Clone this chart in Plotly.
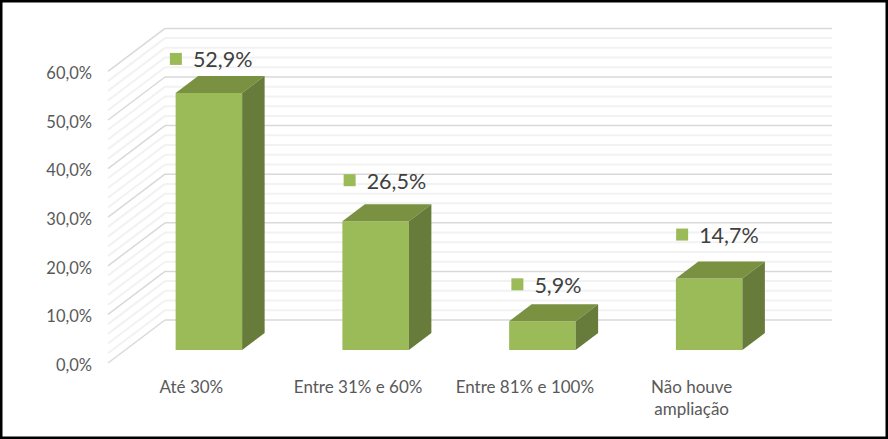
import plotly.graph_objects as go

categories = ["Até 30%", "Entre 31% e 60%", "Entre 81% e 100%", "Não houve<br>ampliação"]
values = [52.9, 26.5, 5.9, 14.7]
value_labels = ["52,9%", "26,5%", "5,9%", "14,7%"]
y_ticks = [0, 10, 20, 30, 40, 50, 60]
y_tick_labels = ["0,0%", "10,0%", "20,0%", "30,0%", "40,0%", "50,0%", "60,0%"]
minor_levels = [v for v in range(0, 61, 2) if v % 10]

W, H = 888, 439
L, R, T, B = 106, 832, 27, 365
PX_X = 166.75
PX_Y = 4.86
ux = lambda p: p / PX_X
uy = lambda p: p / PX_Y
x0 = -0.5                      # front-left corner of the floor
x_min = x0 - ux(108 - L)
x1 = x0 + ux(R - 108)
y_min = -uy(B - 363)
y1 = uy(363 - T)

WALL_DX, WALL_DY = ux(57), uy(43)
BAR_SHIFT, BAR_BASE = ux(17.5), uy(13)
BAR_W = ux(66.5)
DEPTH_DX, DEPTH_DY = ux(22.5), uy(17)

FRONT, TOP, SIDE = "#9BBB59", "#7A9142", "#677C3A"
# hand-placed data labels: pixel offsets of the square marker from the bar's top centre
label_off_x = [-33, -26, -25, -27]
label_off_y = [34, 41, 37, 44]

shapes = []
def wall(level, color, width):
    shapes.append(dict(type="line", layer="below", xref="x", yref="y", x0=x0, y0=level,
                       x1=x0 + WALL_DX, y1=level + WALL_DY, line=dict(color=color, width=width)))
    shapes.append(dict(type="line", layer="below", xref="x", yref="y", x0=x0 + WALL_DX, y0=level + WALL_DY,
                       x1=x1, y1=level + WALL_DY, line=dict(color=color, width=width)))
for lv in minor_levels:
    wall(lv, "#F2F2F2", 2)
for lv in y_ticks:
    wall(lv, "#D9D9D9", 1.5)

xs = list(range(len(values)))
centres = [x + BAR_SHIFT for x in xs]

fig = go.Figure()
fig.add_trace(go.Bar(x=centres, y=values, base=BAR_BASE, width=BAR_W,
                     marker=dict(color=FRONT, line=dict(width=0)), showlegend=False))
for c, v in zip(centres, values):
    l, r = c - BAR_W / 2, c + BAR_W / 2
    t = v + BAR_BASE
    fig.add_trace(go.Scatter(x=[l, r, r + DEPTH_DX, l + DEPTH_DX, l], y=[t, t, t + DEPTH_DY, t + DEPTH_DY, t],
                             mode="lines", fill="toself", fillcolor=TOP, line=dict(width=0), showlegend=False))
    fig.add_trace(go.Scatter(x=[r, r + DEPTH_DX, r + DEPTH_DX, r, r],
                             y=[BAR_BASE, BAR_BASE + DEPTH_DY, t + DEPTH_DY, t, BAR_BASE],
                             mode="lines", fill="toself", fillcolor=SIDE, line=dict(width=0), showlegend=False))

sq_x = [c + ux(o) for c, o in zip(centres, label_off_x)]
sq_y = [v + BAR_BASE + uy(o) for v, o in zip(values, label_off_y)]
fig.add_trace(go.Scatter(x=sq_x, y=sq_y, mode="markers",
                         marker=dict(symbol="square", size=12, color=FRONT), showlegend=False))
fig.add_trace(go.Scatter(x=[x + ux(17) for x in sq_x], y=[y - uy(3) for y in sq_y],
                         mode="text", text=value_labels, textposition="middle right",
                         textfont=dict(family="Lato", size=21.5, color="#404040"),
                         cliponaxis=False, showlegend=False))

fig.update_layout(
    width=W, height=H, margin=dict(l=L, r=W - R, t=T, b=H - B),
    paper_bgcolor="white", plot_bgcolor="white", showlegend=False, shapes=shapes,
    xaxis=dict(range=[x_min, x1], tickvals=xs, ticktext=categories, showgrid=False, zeroline=False,
               showline=False, ticks="", ticklabelstandoff=10, tickangle=0,
               tickfont=dict(family="Lato", size=17, color="#595959")),
    yaxis=dict(range=[y_min, y1], tickvals=[t - uy(2) for t in y_ticks], ticktext=y_tick_labels,
               showgrid=False, zeroline=False, showline=False, ticks="", ticklabelstandoff=13,
               tickfont=dict(family="Lato", size=16.5, color="#595959")),
)
fig.add_shape(type="rect", xref="paper", yref="paper", layer="above",
              x0=(1.25 - L) / (R - L), x1=(W - 1.25 - L) / (R - L),
              y0=(B - (H - 1.25)) / (B - T), y1=(B - 1.25) / (B - T),
              line=dict(color="black", width=2.5))
fig.write_html("out.html", config={"displayModeBar": False}, post_script="document.body.style.margin='0';")
